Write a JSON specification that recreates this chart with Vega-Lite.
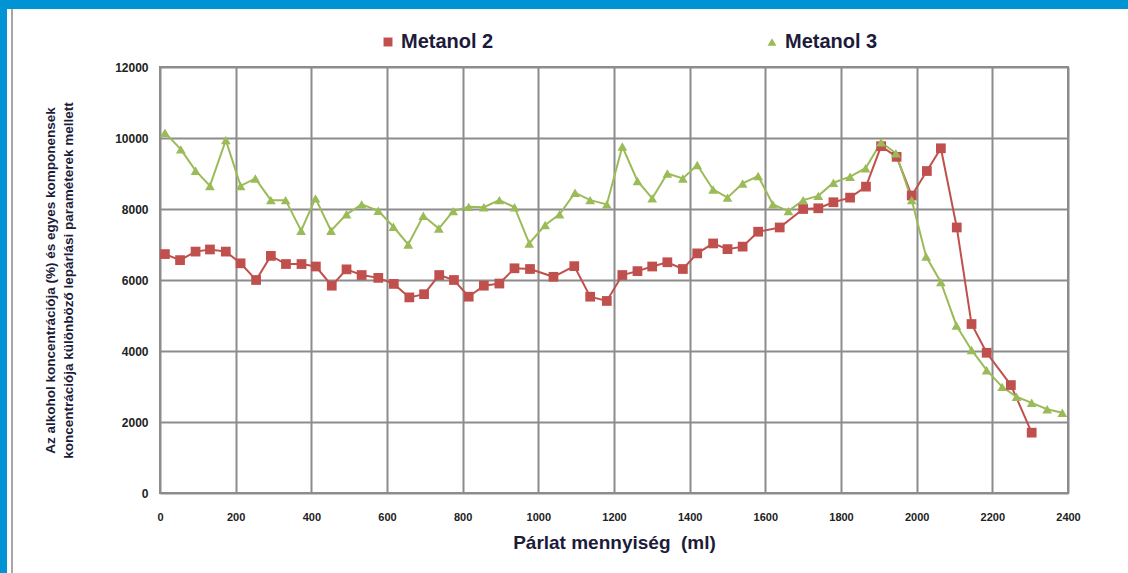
{
  "$schema": "https://vega.github.io/schema/vega-lite/v6.json",
  "background": "white",
  "padding": 0,
  "columns": 6,
  "spacing": 0,
  "bounds": "flush",
  "align": "each",
  "config": {
    "view": {"stroke": null},
    "font": "Liberation Sans"
  },
  "concat": [
    {"width": 7, "height": 9, "view": {"fill": "#0094d4"}, "data": {"values": []}, "mark": "point", "encoding": {}},
    {"width": 4, "height": 9, "view": {"fill": "#0094d4"}, "data": {"values": []}, "mark": "point", "encoding": {}},
    {"width": 2, "height": 9, "view": {"fill": "#0094d4"}, "data": {"values": []}, "mark": "point", "encoding": {}},
    {"width": 147, "height": 9, "view": {"fill": "#0094d4"}, "data": {"values": []}, "mark": "point", "encoding": {}},
    {"width": 908, "height": 9, "view": {"fill": "#0094d4"}, "data": {"values": []}, "mark": "point", "encoding": {}},
    {"width": 60, "height": 9, "view": {"fill": "#0094d4"}, "data": {"values": []}, "mark": "point", "encoding": {}},

    {"width": 7, "height": 58, "view": {"fill": "#0094d4"}, "data": {"values": []}, "mark": "point", "encoding": {}},
    {"width": 4, "height": 58, "data": {"values": []}, "mark": "point", "encoding": {}},
    {"width": 2, "height": 58, "view": {"fill": "#a6a6a6"}, "data": {"values": []}, "mark": "point", "encoding": {}},
    {"width": 147, "height": 58, "data": {"values": []}, "mark": "point", "encoding": {}},
    {"width": 908, "height": 58, "data": {"values": []}, "mark": "point", "encoding": {}},
    {"width": 60, "height": 58, "data": {"values": []}, "mark": "point", "encoding": {}},

    {"width": 7, "height": 426, "view": {"fill": "#0094d4"}, "data": {"values": []}, "mark": "point", "encoding": {}},
    {"width": 4, "height": 426, "data": {"values": []}, "mark": "point", "encoding": {}},
    {"width": 2, "height": 426, "view": {"fill": "#a6a6a6"}, "data": {"values": []}, "mark": "point", "encoding": {}},
    {"width": 147, "height": 426, "data": {"values": []}, "mark": "point", "encoding": {}},
    {
      "width": 908,
      "height": 426,
      "view": {"stroke": "#8c8c8c", "strokeWidth": 2, "fill": "white"},
      "data": {
        "values": [
          {"ml": 13, "v": 6730, "s": "Metanol 2"}, {"ml": 53, "v": 6560, "s": "Metanol 2"}, {"ml": 94, "v": 6800, "s": "Metanol 2"},
          {"ml": 132, "v": 6860, "s": "Metanol 2"}, {"ml": 174, "v": 6800, "s": "Metanol 2"}, {"ml": 213, "v": 6470, "s": "Metanol 2"},
          {"ml": 254, "v": 6000, "s": "Metanol 2"}, {"ml": 293, "v": 6680, "s": "Metanol 2"}, {"ml": 333, "v": 6450, "s": "Metanol 2"},
          {"ml": 374, "v": 6450, "s": "Metanol 2"}, {"ml": 412, "v": 6380, "s": "Metanol 2"}, {"ml": 454, "v": 5840, "s": "Metanol 2"},
          {"ml": 493, "v": 6300, "s": "Metanol 2"}, {"ml": 533, "v": 6140, "s": "Metanol 2"}, {"ml": 577, "v": 6060, "s": "Metanol 2"},
          {"ml": 618, "v": 5890, "s": "Metanol 2"}, {"ml": 659, "v": 5510, "s": "Metanol 2"}, {"ml": 698, "v": 5600, "s": "Metanol 2"},
          {"ml": 738, "v": 6140, "s": "Metanol 2"}, {"ml": 777, "v": 6000, "s": "Metanol 2"}, {"ml": 816, "v": 5530, "s": "Metanol 2"},
          {"ml": 856, "v": 5840, "s": "Metanol 2"}, {"ml": 897, "v": 5900, "s": "Metanol 2"}, {"ml": 937, "v": 6330, "s": "Metanol 2"},
          {"ml": 978, "v": 6310, "s": "Metanol 2"}, {"ml": 1040, "v": 6090, "s": "Metanol 2"}, {"ml": 1095, "v": 6390, "s": "Metanol 2"},
          {"ml": 1137, "v": 5530, "s": "Metanol 2"}, {"ml": 1181, "v": 5410, "s": "Metanol 2"}, {"ml": 1222, "v": 6140, "s": "Metanol 2"},
          {"ml": 1262, "v": 6250, "s": "Metanol 2"}, {"ml": 1301, "v": 6380, "s": "Metanol 2"}, {"ml": 1341, "v": 6500, "s": "Metanol 2"},
          {"ml": 1382, "v": 6310, "s": "Metanol 2"}, {"ml": 1420, "v": 6750, "s": "Metanol 2"}, {"ml": 1462, "v": 7030, "s": "Metanol 2"},
          {"ml": 1500, "v": 6870, "s": "Metanol 2"}, {"ml": 1540, "v": 6940, "s": "Metanol 2"}, {"ml": 1581, "v": 7360, "s": "Metanol 2"},
          {"ml": 1638, "v": 7480, "s": "Metanol 2"}, {"ml": 1700, "v": 8000, "s": "Metanol 2"}, {"ml": 1740, "v": 8020, "s": "Metanol 2"},
          {"ml": 1780, "v": 8190, "s": "Metanol 2"}, {"ml": 1824, "v": 8320, "s": "Metanol 2"}, {"ml": 1866, "v": 8630, "s": "Metanol 2"},
          {"ml": 1906, "v": 9770, "s": "Metanol 2"}, {"ml": 1947, "v": 9470, "s": "Metanol 2"}, {"ml": 1987, "v": 8380, "s": "Metanol 2"},
          {"ml": 2027, "v": 9070, "s": "Metanol 2"}, {"ml": 2064, "v": 9710, "s": "Metanol 2"}, {"ml": 2106, "v": 7480, "s": "Metanol 2"},
          {"ml": 2145, "v": 4760, "s": "Metanol 2"}, {"ml": 2185, "v": 3950, "s": "Metanol 2"}, {"ml": 2249, "v": 3040, "s": "Metanol 2"},
          {"ml": 2304, "v": 1700, "s": "Metanol 2"},

          {"ml": 13, "v": 10150, "s": "Metanol 3"}, {"ml": 55, "v": 9680, "s": "Metanol 3"}, {"ml": 94, "v": 9080, "s": "Metanol 3"},
          {"ml": 132, "v": 8650, "s": "Metanol 3"}, {"ml": 174, "v": 9940, "s": "Metanol 3"}, {"ml": 213, "v": 8650, "s": "Metanol 3"},
          {"ml": 252, "v": 8860, "s": "Metanol 3"}, {"ml": 293, "v": 8250, "s": "Metanol 3"}, {"ml": 332, "v": 8250, "s": "Metanol 3"},
          {"ml": 373, "v": 7390, "s": "Metanol 3"}, {"ml": 411, "v": 8300, "s": "Metanol 3"}, {"ml": 452, "v": 7390, "s": "Metanol 3"},
          {"ml": 493, "v": 7850, "s": "Metanol 3"}, {"ml": 533, "v": 8130, "s": "Metanol 3"}, {"ml": 577, "v": 7950, "s": "Metanol 3"},
          {"ml": 617, "v": 7500, "s": "Metanol 3"}, {"ml": 656, "v": 7000, "s": "Metanol 3"}, {"ml": 696, "v": 7810, "s": "Metanol 3"},
          {"ml": 737, "v": 7450, "s": "Metanol 3"}, {"ml": 775, "v": 7940, "s": "Metanol 3"}, {"ml": 816, "v": 8060, "s": "Metanol 3"},
          {"ml": 856, "v": 8050, "s": "Metanol 3"}, {"ml": 897, "v": 8250, "s": "Metanol 3"}, {"ml": 937, "v": 8050, "s": "Metanol 3"},
          {"ml": 976, "v": 7030, "s": "Metanol 3"}, {"ml": 1018, "v": 7550, "s": "Metanol 3"}, {"ml": 1056, "v": 7850, "s": "Metanol 3"},
          {"ml": 1097, "v": 8460, "s": "Metanol 3"}, {"ml": 1137, "v": 8250, "s": "Metanol 3"}, {"ml": 1181, "v": 8130, "s": "Metanol 3"},
          {"ml": 1222, "v": 9760, "s": "Metanol 3"}, {"ml": 1262, "v": 8790, "s": "Metanol 3"}, {"ml": 1301, "v": 8300, "s": "Metanol 3"},
          {"ml": 1341, "v": 9000, "s": "Metanol 3"}, {"ml": 1382, "v": 8860, "s": "Metanol 3"}, {"ml": 1420, "v": 9240, "s": "Metanol 3"},
          {"ml": 1462, "v": 8550, "s": "Metanol 3"}, {"ml": 1500, "v": 8320, "s": "Metanol 3"}, {"ml": 1540, "v": 8720, "s": "Metanol 3"},
          {"ml": 1581, "v": 8930, "s": "Metanol 3"}, {"ml": 1620, "v": 8130, "s": "Metanol 3"}, {"ml": 1661, "v": 7940, "s": "Metanol 3"},
          {"ml": 1700, "v": 8250, "s": "Metanol 3"}, {"ml": 1740, "v": 8370, "s": "Metanol 3"}, {"ml": 1780, "v": 8740, "s": "Metanol 3"},
          {"ml": 1824, "v": 8910, "s": "Metanol 3"}, {"ml": 1865, "v": 9150, "s": "Metanol 3"}, {"ml": 1906, "v": 9880, "s": "Metanol 3"},
          {"ml": 1945, "v": 9570, "s": "Metanol 3"}, {"ml": 1987, "v": 8250, "s": "Metanol 3"}, {"ml": 2025, "v": 6660, "s": "Metanol 3"},
          {"ml": 2064, "v": 5940, "s": "Metanol 3"}, {"ml": 2105, "v": 4720, "s": "Metanol 3"}, {"ml": 2145, "v": 4030, "s": "Metanol 3"},
          {"ml": 2185, "v": 3460, "s": "Metanol 3"}, {"ml": 2226, "v": 2990, "s": "Metanol 3"}, {"ml": 2264, "v": 2710, "s": "Metanol 3"},
          {"ml": 2304, "v": 2540, "s": "Metanol 3"}, {"ml": 2345, "v": 2360, "s": "Metanol 3"}, {"ml": 2385, "v": 2260, "s": "Metanol 3"}
        ]
      },
      "encoding": {
        "x": {
          "field": "ml", "type": "quantitative",
          "scale": {"domain": [0, 2400], "nice": false, "zero": false},
          "axis": {
            "values": [0, 200, 400, 600, 800, 1000, 1200, 1400, 1600, 1800, 2000, 2200, 2400],
            "format": "d",
            "grid": true, "gridColor": "#8c8c8c", "gridWidth": 2,
            "domain": false, "ticks": false,
            "labelFont": "Liberation Sans", "labelFontWeight": "bold", "labelFontSize": 11, "labelColor": "#222222",
            "labelPadding": 18, "labelFlush": false,
            "title": "Párlat mennyiség\u00a0 (ml)",
            "titleFont": "Liberation Sans", "titleFontSize": 19, "titleFontWeight": "bold", "titleColor": "#1c1c3a",
            "titlePadding": 11
          }
        },
        "y": {
          "field": "v", "type": "quantitative",
          "scale": {"domain": [0, 12000], "nice": false},
          "axis": {
            "values": [0, 2000, 4000, 6000, 8000, 10000, 12000],
            "format": "d",
            "grid": true, "gridColor": "#8c8c8c", "gridWidth": 2,
            "domain": false, "ticks": false,
            "labelFont": "Liberation Sans", "labelFontWeight": "bold", "labelFontSize": 12, "labelColor": "#222222",
            "labelPadding": 12, "labelFlush": false,
            "title": ["Az alkohol koncentrációja (%) és egyes komponensek", "koncentrációja különböző lepárlási paraméterek mellett"],
            "titleFont": "Liberation Sans", "titleFontSize": 13.5, "titleFontWeight": "bold", "titleColor": "#1c1c3a",
            "titleLineHeight": 18, "titlePadding": 39
          }
        },
        "color": {
          "field": "s", "type": "nominal",
          "scale": {"domain": ["Metanol 2", "Metanol 3"], "range": ["#c0504d", "#9bbb59"]},
          "legend": {
            "title": null, "orient": "none", "legendX": 378, "legendY": 32,
            "direction": "horizontal", "columnPadding": 268, "padding": 0,
            "labelFont": "Liberation Sans", "labelFontSize": 20, "labelFontWeight": "bold", "labelColor": "#1c1c3a",
            "labelOffset": 3, "symbolSize": 80, "symbolStrokeWidth": 0
          }
        }
      },
      "layer": [
        {"mark": {"type": "line", "strokeWidth": 2}},
        {
          "mark": {"type": "point", "filled": true, "opacity": 1},
          "encoding": {
            "shape": {
              "field": "s", "type": "nominal",
              "scale": {"domain": ["Metanol 2", "Metanol 3"], "range": ["square", "triangle-up"]}
            },
            "size": {"value": 95}
          }
        }
      ]
    },
    {"width": 60, "height": 426, "data": {"values": []}, "mark": "point", "encoding": {}},

    {"width": 7, "height": 80, "view": {"fill": "#0094d4"}, "data": {"values": []}, "mark": "point", "encoding": {}},
    {"width": 4, "height": 80, "data": {"values": []}, "mark": "point", "encoding": {}},
    {"width": 2, "height": 80, "view": {"fill": "#a6a6a6"}, "data": {"values": []}, "mark": "point", "encoding": {}},
    {"width": 147, "height": 80, "data": {"values": []}, "mark": "point", "encoding": {}},
    {"width": 908, "height": 80, "data": {"values": []}, "mark": "point", "encoding": {}},
    {"width": 60, "height": 80, "data": {"values": []}, "mark": "point", "encoding": {}}
  ]
}
